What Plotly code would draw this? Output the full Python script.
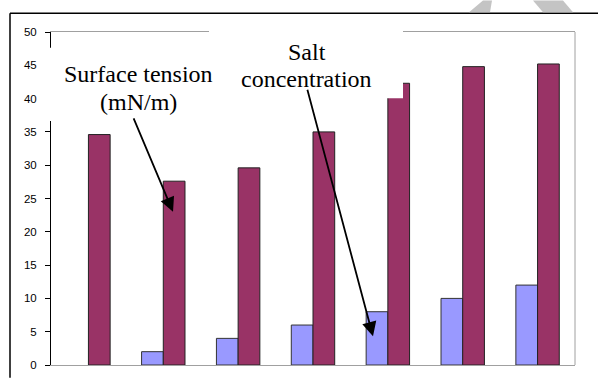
import plotly.graph_objects as go

categories = ["1", "2", "3", "4", "5", "6", "7"]
salt_concentration = [0, 2, 4, 6, 8, 10, 12]
surface_tension = [34.6, 27.6, 29.6, 35.0, 42.3, 44.8, 45.2]
y_ticks = [0, 5, 10, 15, 20, 25, 30, 35, 40, 45, 50]

W, H = 599, 383
L, R, T, B = 51, 24, 32, 14
PW, PH = W - L - R, H - T - B


def px(x):
    return (x - L) / PW


def py(y):
    return (H - B - y) / PH


fig = go.Figure()
fig.add_trace(go.Bar(x=categories, y=salt_concentration, name="Salt concentration",
                     marker=dict(color="#9999FF",
                                 line=dict(color="#333333",
                                           width=[0 if v == 0 else 1 for v in salt_concentration]))))
fig.add_trace(go.Bar(x=categories, y=surface_tension, name="Surface tension (mN/m)",
                     marker=dict(color="#993366", line=dict(color="#222222", width=1))))

shapes = []
# outer frame (left and top edges; the rest lies outside the picture)
shapes.append(dict(type="line", xref="paper", yref="paper", x0=px(10), x1=px(598),
                   y0=py(13), y1=py(13), line=dict(color="black", width=1.5), layer="above"))
shapes.append(dict(type="line", xref="paper", yref="paper", x0=px(10), x1=px(10),
                   y0=py(13), y1=py(382), line=dict(color="black", width=1.5), layer="above"))
# right border of plot area
shapes.append(dict(type="line", xref="paper", yref="paper", x0=1, x1=1, y0=0, y1=1,
                   line=dict(color="#a0a0a0", width=1), layer="above"))
# white boxes behind the text labels
shapes.append(dict(type="rect", xref="paper", yref="paper", x0=px(43), x1=px(215),
                   y0=py(122), y1=py(48), fillcolor="white", line=dict(width=0), layer="above"))
shapes.append(dict(type="rect", xref="paper", yref="paper", x0=px(209), x1=px(403),
                   y0=py(99), y1=py(20), fillcolor="white", line=dict(width=0), layer="above"))
# watermark fragments at top
shapes.append(dict(type="path", xref="paper", yref="paper",
                   path=f"M {px(483)} {py(0)} L {px(492)} {py(0)} L {px(490)} {py(12)} L {px(469)} {py(12)} Z",
                   fillcolor="#c4c4c4", line=dict(width=0), layer="above"))
shapes.append(dict(type="path", xref="paper", yref="paper",
                   path=f"M {px(533)} {py(0)} L {px(563)} {py(0)} L {px(573)} {py(12)} L {px(543)} {py(12)} Z",
                   fillcolor="#c4c4c4", line=dict(width=0), layer="above"))

font_t = dict(family="Liberation Serif, Times New Roman, serif", size=24, color="black")
annotations = [
    dict(text="Surface tension", x=px(138), y=py(75), xref="paper", yref="paper",
         showarrow=False, font=font_t, xanchor="center", yanchor="middle"),
    dict(text="(mN/m)", x=px(138.5), y=py(103), xref="paper", yref="paper",
         showarrow=False, font=font_t, xanchor="center", yanchor="middle"),
    dict(text="Salt", x=px(306.5), y=py(52), xref="paper", yref="paper",
         showarrow=False, font=font_t, xanchor="center", yanchor="middle"),
    dict(text="concentration", x=px(306), y=py(80), xref="paper", yref="paper",
         showarrow=False, font=font_t, xanchor="center", yanchor="middle"),
    dict(text="", x=px(173), y=py(214), xref="paper", yref="paper", showarrow=True,
         ax=133 - 173, ay=119 - 214, axref="pixel", ayref="pixel",
         arrowhead=2, arrowsize=1.6, arrowwidth=1.8, arrowcolor="black"),
    dict(text="", x=px(373), y=py(340), xref="paper", yref="paper", showarrow=True,
         ax=307 - 373, ay=92 - 340, axref="pixel", ayref="pixel",
         arrowhead=2, arrowsize=1.6, arrowwidth=1.8, arrowcolor="black"),
]

fig.update_layout(
    width=W, height=H,
    margin=dict(l=L, r=R, t=T, b=B, pad=0),
    paper_bgcolor="white", plot_bgcolor="white",
    barmode="group", bargap=0.42, bargroupgap=0,
    showlegend=False,
    shapes=shapes, annotations=annotations,
    xaxis=dict(showticklabels=False, ticks="", showgrid=False, zeroline=False,
               showline=True, linecolor="#a0a0a0", linewidth=1, mirror=True),
    yaxis=dict(range=[0, 50], tickvals=y_ticks, ticks="outside", ticklen=5,
               tickcolor="black", showgrid=False, zeroline=False,
               showline=True, linecolor="black", linewidth=1,
               tickfont=dict(family="Liberation Sans", size=11.5, color="black"),
               ticklabelstandoff=6),
)

fig.write_html("out.html")
